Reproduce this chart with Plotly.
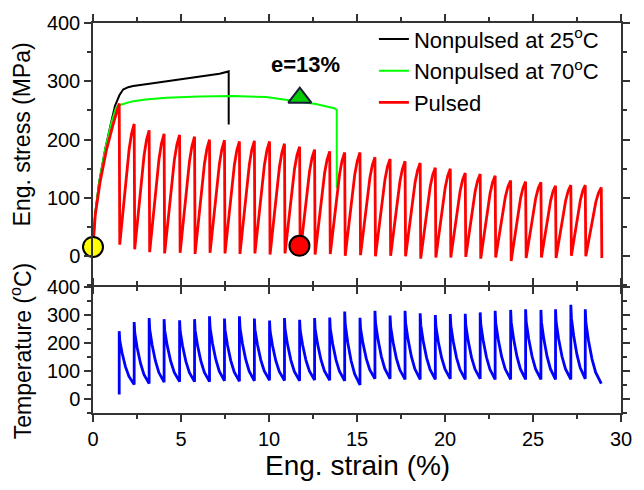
import plotly.graph_objects as go

# ---------------- data ----------------
# Strain (%) at which each stress drop (pulse) occurs
DROP_STRAIN = [1.49, 2.34, 3.19, 4.04, 4.92, 5.77, 6.62, 7.47, 8.32, 9.17,
               10.03, 10.88, 11.74, 12.59, 13.45, 14.30, 15.17, 16.02, 16.88, 17.73,
               18.59, 19.45, 20.30, 21.15, 22.00, 22.85, 23.73, 24.58, 25.45, 26.28,
               27.15, 27.97, 28.88]
# Stress just before each drop (MPa)
PEAK_STRESS = [262, 227, 216, 210, 208, 205, 200, 199, 197, 198,
               197, 193, 188, 183, 180, 178, 178, 170, 167, 163,
               160, 152, 150, 143, 141, 138, 130, 128, 127, 121,
               122, 122, 118]
# Stress just after each drop (MPa)
TROUGH_STRESS = [20, 12, 7, 5, 6, 4, 6, 5, 4, 5,
                 3, 5, 4, 3, 4, 1, 2, 0, 1, 0,
                 -4, -2, -2, -1, -4, -2, -8, -3, -2, -3,
                 1, 0, -3]
# Initial loading of the pulsed specimen
PULSED_INIT_STRAIN = [0.0, 0.13, 0.4, 0.77, 1.15, 1.35]
PULSED_INIT_STRESS = [16, 71, 127, 183, 227, 250]
# Shape of one loading tooth (fraction of interval, fraction of rise)
RISE_T = [0.2, 0.42, 0.65, 0.82, 0.93]
RISE_F = [0.25, 0.54, 0.79, 0.92, 0.98]

# Temperature: spike maximum and minimum before the next spike (deg C)
TEMP_START = 16
TEMP_PEAK = [242, 275, 289, 285, 281, 285, 295, 287, 295, 287,
             280, 289, 283, 289, 291, 312, 290, 315, 298, 315,
             306, 300, 303, 304, 309, 315, 318, 320, 318, 320,
             336, 320]
TEMP_MIN = [52, 55, 60, 62, 62, 62, 65, 63, 65, 67,
            66, 65, 68, 67, 65, 50, 72, 72, 70, 70,
            70, 72, 70, 72, 70, 70, 70, 70, 70, 70,
            72, 55]
DECAY_T = [0.04, 0.2, 0.42, 0.65, 0.85]
DECAY_F = [0.82, 0.58, 0.33, 0.15, 0.05]

# Nonpulsed curves
BLACK_STRAIN = [0, 0.12, 0.35, 0.7, 1.05, 1.25, 1.5, 1.71, 2.0, 2.28, 3.0, 4.17, 5.0, 6.05, 7.19, 7.71, 7.71]
BLACK_STRESS = [16, 72, 127, 185, 232, 258, 276, 286, 290, 292, 295, 300, 303, 307, 313, 317, 226]
GREEN_STRAIN = [0, 0.12, 0.35, 0.7, 1.05, 1.3, 1.49, 2.28, 3.0, 4.17, 6.05, 7.94, 9.83, 11.15, 12.66, 13.7, 13.85, 13.85]
GREEN_STRESS = [16, 72, 127, 185, 230, 254, 259, 266, 269, 272, 274, 275, 273, 268, 261, 254, 251, 117]

# Markers
START_PT = (0.0, 16)
PULSE_PT = (11.73, 18)
E13_PT = (11.75, 272)

# ---------------- build pulsed stress curve ----------------
rx = list(PULSED_INIT_STRAIN)
ry = list(PULSED_INIT_STRESS)
for k in range(len(DROP_STRAIN)):
    if k > 0:
        x0 = DROP_STRAIN[k - 1] + 0.03
        x1 = DROP_STRAIN[k]
        y0 = TROUGH_STRESS[k - 1]
        y1 = PEAK_STRESS[k]
        for t, f in zip(RISE_T, RISE_F):
            rx.append(x0 + t * (x1 - x0))
            ry.append(y0 + f * (y1 - y0))
    rx.append(DROP_STRAIN[k])
    ry.append(PEAK_STRESS[k])
    rx.append(DROP_STRAIN[k] + 0.03)
    ry.append(TROUGH_STRESS[k])

# ---------------- build temperature curve ----------------
tx = [DROP_STRAIN[0]]
ty = [TEMP_START]
for k in range(len(TEMP_PEAK)):
    x0 = DROP_STRAIN[k]
    x1 = DROP_STRAIN[k + 1]
    tx.append(x0)
    ty.append(TEMP_PEAK[k])
    for t, f in zip(DECAY_T, DECAY_F):
        tx.append(x0 + t * (x1 - x0))
        ty.append(TEMP_MIN[k] + f * (TEMP_PEAK[k] - TEMP_MIN[k]))
    tx.append(x1)
    ty.append(TEMP_MIN[k])

FONT = "Arial, Liberation Sans, sans-serif"
AX = "#333333"

fig = go.Figure()
fig.add_trace(go.Scatter(x=BLACK_STRAIN, y=BLACK_STRESS, mode="lines",
                         line=dict(color="black", width=2),
                         name="Nonpulsed at 25<sup>o</sup>C", xaxis="x", yaxis="y"))
fig.add_trace(go.Scatter(x=GREEN_STRAIN, y=GREEN_STRESS, mode="lines",
                         line=dict(color="#00ff00", width=2),
                         name="Nonpulsed at 70<sup>o</sup>C", xaxis="x", yaxis="y"))
fig.add_trace(go.Scatter(x=rx, y=ry, mode="lines",
                         line=dict(color="#ff0000", width=2.8),
                         name="Pulsed", xaxis="x", yaxis="y"))
fig.add_trace(go.Scatter(x=[START_PT[0]], y=[START_PT[1]], mode="markers",
                         marker=dict(color="#ffff00", size=20, line=dict(color="black", width=2)),
                         showlegend=False, cliponaxis=False, xaxis="x", yaxis="y"))
fig.add_trace(go.Scatter(x=[PULSE_PT[0]], y=[PULSE_PT[1]], mode="markers",
                         marker=dict(color="#ff0000", size=20, line=dict(color="black", width=2)),
                         showlegend=False, cliponaxis=False, xaxis="x", yaxis="y"))
fig.add_trace(go.Scatter(x=[E13_PT[0]], y=[E13_PT[1]], mode="markers",
                         marker=dict(color="#00cc00", size=20, symbol="triangle-up",
                                     line=dict(color="#1b1b3a", width=2)),
                         showlegend=False, cliponaxis=False, xaxis="x", yaxis="y"))
fig.add_trace(go.Scatter(x=tx, y=ty, mode="lines",
                         line=dict(color="#0000ff", width=2.8),
                         showlegend=False, xaxis="x2", yaxis="y2"))

split = 128 / 396
gap = 1.5 / 396

common_x = dict(range=[0, 30], showline=True, linecolor=AX, linewidth=1.5,
                mirror="ticks", ticks="outside", ticklen=7, tickcolor=AX, tickwidth=1.5,
                dtick=5, tick0=0, showgrid=False, zeroline=False,
                minor=dict(ticks="outside", ticklen=4, dtick=2.5, tick0=0, tickcolor=AX, tickwidth=1.5),
                tickfont=dict(family=FONT, size=20, color="black"))
common_y = dict(range=[-50, 400], showline=True, linecolor=AX, linewidth=1.5,
                mirror="ticks", ticks="outside", ticklen=7, tickcolor=AX, tickwidth=1.5,
                tickvals=[0, 100, 200, 300, 400], showgrid=False, zeroline=False,
                minor=dict(ticks="outside", ticklen=4, dtick=50, tick0=0, tickcolor=AX, tickwidth=1.5),
                tickfont=dict(family=FONT, size=20, color="black"))

fig.update_layout(
    width=644, height=490,
    margin=dict(l=93, r=21, t=17, b=77),
    paper_bgcolor="white", plot_bgcolor="white",
    font=dict(family=FONT, color="black"),
    xaxis=dict(common_x, domain=[0, 1], anchor="y", showticklabels=False),
    xaxis2=dict(common_x, domain=[0, 1], anchor="y2", matches="x"),
    yaxis=dict(common_y, domain=[split + gap, 1], anchor="x"),
    yaxis2=dict(common_y, domain=[0, split], anchor="x2"),
    legend=dict(x=0.532, y=1.012, xanchor="left", yanchor="top",
                bgcolor="rgba(0,0,0,0)", font=dict(family=FONT, size=22, color="black"),
                tracegroupgap=0, itemwidth=30),
    showlegend=True,
    annotations=[
        dict(text="<b>e=13%</b>", x=12.05, y=328, xref="x", yref="y", showarrow=False,
             font=dict(family=FONT, size=22, color="black"), xanchor="center", yanchor="middle"),
        dict(text="Eng. stress (MPa)", x=-0.134, y=0.715, xref="paper", yref="paper",
             showarrow=False, textangle=-90, font=dict(family=FONT, size=23, color="black"),
             xanchor="center", yanchor="middle"),
        dict(text="Temperature (<sup>o</sup>C)", x=-0.136, y=0.159, xref="paper", yref="paper",
             showarrow=False, textangle=-90, font=dict(family=FONT, size=23, color="black"),
             xanchor="center", yanchor="middle"),
        dict(text="Eng. strain (%)", x=0.5, y=-0.134, xref="paper", yref="paper",
             showarrow=False, font=dict(family=FONT, size=28, color="black"),
             xanchor="center", yanchor="middle"),
    ],
)

fig.write_html("out.html")
